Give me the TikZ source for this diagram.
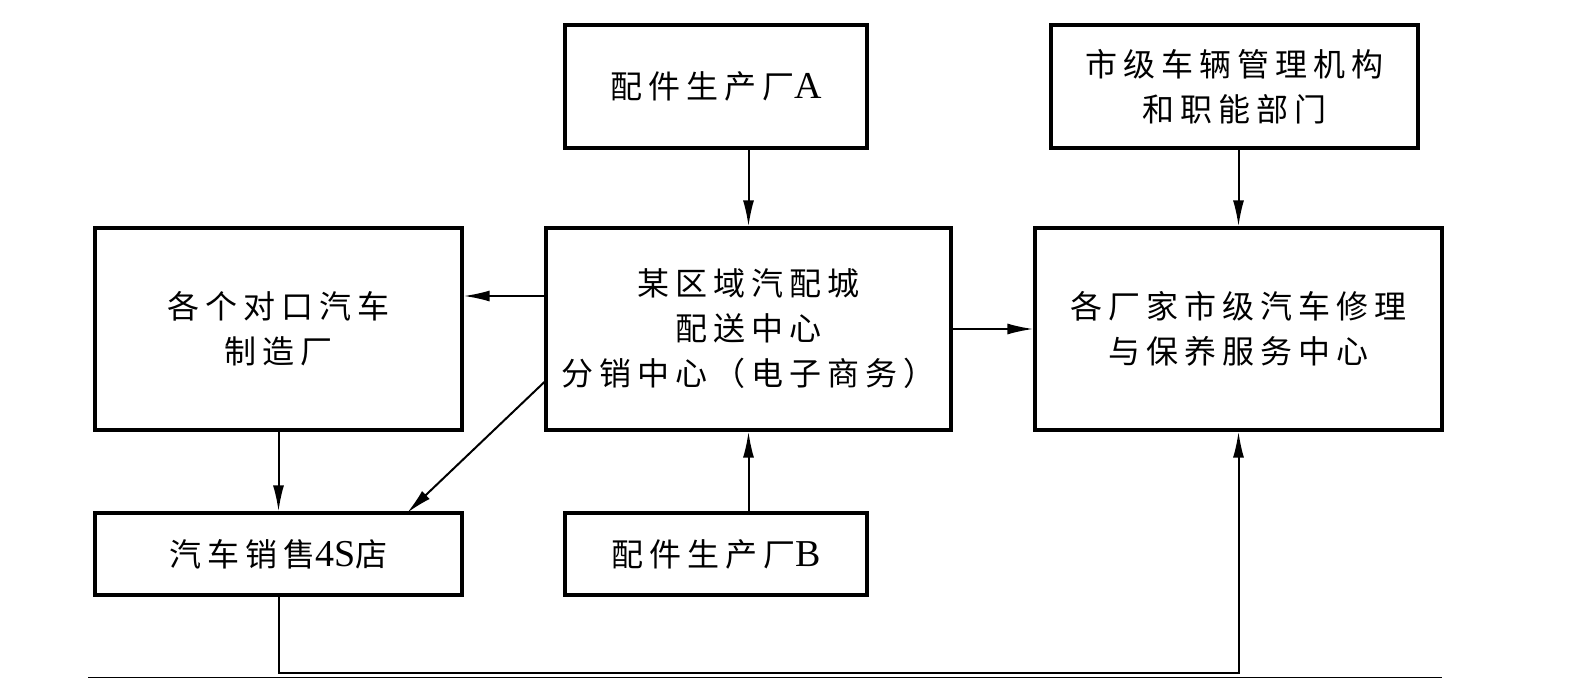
\documentclass[tikz,border=0pt]{standalone}
\usepackage{fontspec}
\setmainfont{Liberation Serif}
\newfontfamily\cjk{Noto Sans CJK SC}[LetterSpace=19]
\newcommand{\lat}[1]{{\rmfamily\fontsize{38}{45}\selectfont #1}}
\usetikzlibrary{arrows.meta}
\tikzset{
  box/.style={draw, line width=3.2pt, rectangle, inner sep=0pt, align=center,
    font=\fontsize{32}{45}\selectfont\cjk},
  conn/.style={line width=2pt, -{Latex[length=26pt,width=11pt]}},
}
\begin{document}
\begin{tikzpicture}[x=1pt,y=-1pt]
\useasboundingbox (0,0) rectangle (1576,690);
\node[box, minimum width=302pt, minimum height=123pt] (A) at (716,86.5) {配件生产厂\lat{A}};
\node[box, minimum width=367pt, minimum height=123pt] (M) at (1234.5,86.5) {市级车辆管理机构\\和职能部门};
\node[box, minimum width=367pt, minimum height=202pt] (L) at (278.5,329) {各个对口汽车\\制造厂};
\node[box, minimum width=405pt, minimum height=202pt] (C) at (748.5,329) {某区域汽配城\\配送中心\\分销中心（电子商务）};
\node[box, minimum width=407pt, minimum height=202pt] (R) at (1238.5,329) {各厂家市级汽车修理\\与保养服务中心};
\node[box, minimum width=367pt, minimum height=82pt] (S) at (278.5,554) {汽车销售\lat{4S}店};
\node[box, minimum width=302pt, minimum height=82pt] (B) at (716,554) {配件生产厂\lat{B}};
\coordinate (y1) at (0,296);
\coordinate (y2) at (0,382);
\coordinate (d1) at (407,513);
\coordinate (bot) at (0,673);
\draw[conn] (C.north |- A.south) -- (C.north);
\draw[conn] (C.south |- B.north) -- (C.south);
\draw[conn] (R.north |- M.south) -- (R.north);
\draw[conn] (C.west |- y1) -- (L.east |- y1);
\draw[conn] (C.west |- y2) -- (d1);
\draw[conn] (C.east) -- (R.west);
\draw[conn] (L.south) -- (S.north);
\draw[conn] (S.south) -- (S.south |- bot) -| (R.south);
\coordinate (r1) at (88,677);
\coordinate (r2) at (1442,677);
\draw[line width=1pt] (r1) -- (r2);
\end{tikzpicture}
\end{document}
